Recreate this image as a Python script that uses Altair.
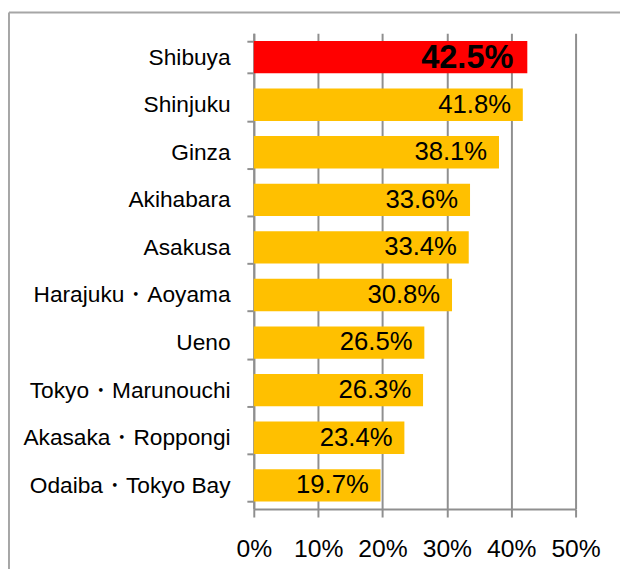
import altair as alt
import pandas as pd

places = ["Shibuya", "Shinjuku", "Ginza", "Akihabara", "Asakusa",
          "Harajuku・Aoyama", "Ueno", "Tokyo・Marunouchi",
          "Akasaka・Roppongi", "Odaiba・Tokyo Bay"]
values = [42.5, 41.8, 38.1, 33.6, 33.4, 30.8, 26.5, 26.3, 23.4, 19.7]
highlight = ["top", "other", "other", "other", "other",
             "other", "other", "other", "other", "other"]
x_ticks = [0, 10, 20, 30, 40, 50]

df = pd.DataFrame({"place": places, "value": values, "hl": highlight})
df["label"] = [f"{v:.1f}%" for v in values]

FONT = "Liberation Sans"
GRID = "#8f8f8f"

base = alt.Chart(df)

y_enc = alt.Y(
    "place:N", sort=places,
    scale=alt.Scale(paddingInner=0.32, paddingOuter=0.16),
    axis=alt.Axis(title=None, grid=False, domain=True, domainColor=GRID,
                  domainWidth=2, ticks=True, tickBand="extent", tickSize=7,
                  tickColor=GRID, tickWidth=2, labelFont=FONT,
                  labelFontSize=23, labelColor="#000000", labelPadding=17,
                  labelLimit=0, labelOverlap=False),
)
x_enc = alt.X(
    "value:Q",
    scale=alt.Scale(domain=[0, 50], nice=False),
    axis=alt.Axis(title=None, values=x_ticks, labelExpr="datum.value + '%'",
                  grid=True, gridColor=GRID, gridWidth=2, domain=True,
                  domainColor=GRID, domainWidth=2, ticks=True, tickSize=8,
                  tickColor=GRID, tickWidth=2, labelFont=FONT,
                  labelFontSize=25, labelColor="#000000", labelPadding=20,
                  labelFlush=False, labelOverlap=False, labelLimit=0),
)

bars = base.mark_bar().encode(
    y=y_enc, x=x_enc,
    color=alt.Color("hl:N", scale=alt.Scale(domain=["top", "other"],
                                            range=["#FF0000", "#FFC000"]),
                    legend=None),
)

text_other = base.transform_filter(alt.datum.hl == "other").mark_text(
    align="right", baseline="middle", dx=-12, font=FONT, fontSize=26,
    color="#000000",
).encode(y=alt.Y("place:N", sort=places), x="value:Q", text="label:N")

text_top = base.transform_filter(alt.datum.hl == "top").mark_text(
    align="right", baseline="middle", dx=-14, dy=1, font=FONT, fontSize=33,
    fontWeight="bold", color="#000000",
).encode(y=alt.Y("place:N", sort=places), x="value:Q", text="label:N")

frame_df = pd.DataFrame({"k": [0]})
frame_top = alt.Chart(frame_df).mark_rule(color="#a6a6a6", strokeWidth=2).encode(
    x=alt.value(-248), x2=alt.value(400), y=alt.value(-21))
frame_left = alt.Chart(frame_df).mark_rule(color="#a6a6a6", strokeWidth=2).encode(
    x=alt.value(-248), y=alt.value(-21), y2=alt.value(600))

chart = alt.layer(bars, text_other, text_top, frame_top, frame_left).properties(
    width=326, height=482,
    padding={"left": 249, "top": 22, "right": 45, "bottom": 57},
    autosize=alt.AutoSizeParams(type="none"),
    background="#ffffff",
).configure_view(stroke=None)

chart.save("out.html", embed_options={"renderer": "svg", "actions": False})
